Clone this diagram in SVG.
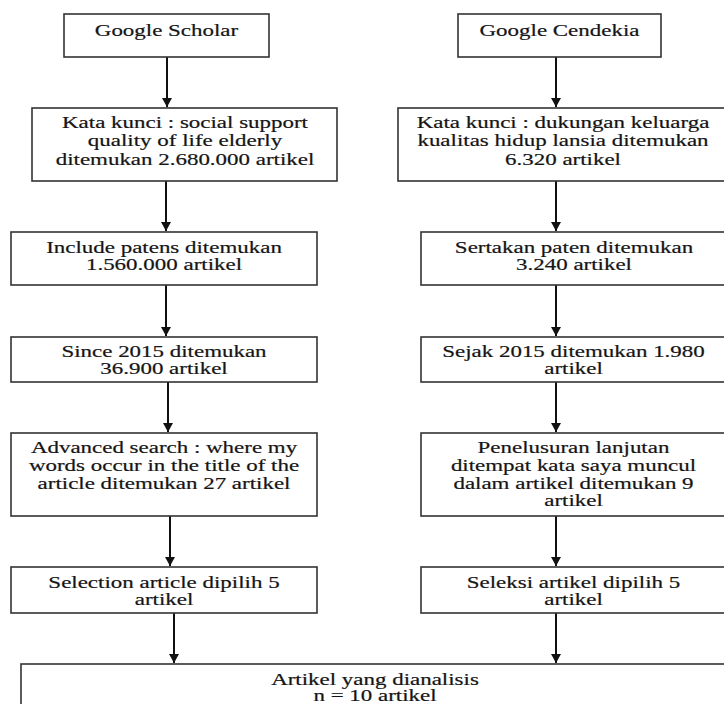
<svg xmlns="http://www.w3.org/2000/svg" width="724" height="704" viewBox="0 0 724 704">
<defs>
<style>
.box{fill:#fff;stroke:#333;stroke-width:1.6}
.con{stroke:#111;stroke-width:2;fill:none;marker-end:url(#ah)}
.t{font-family:"Liberation Serif","Times New Roman",serif;font-size:17px;fill:#151515;stroke:#151515;stroke-width:0.2;text-anchor:middle}
</style>
<marker id="ah" markerUnits="userSpaceOnUse" markerWidth="10" markerHeight="10" refX="9" refY="5" orient="auto">
<path d="M0,0 L9,5 L0,10 z" fill="#111"/>
</marker>
</defs>
<rect width="724" height="704" fill="#fff"/>
<g id="connectors">
<line class="con" x1="167" y1="57" x2="167" y2="107"/>
<line class="con" x1="166" y1="181" x2="166" y2="231"/>
<line class="con" x1="166" y1="285" x2="166" y2="336"/>
<line class="con" x1="168" y1="382" x2="168" y2="432"/>
<line class="con" x1="170" y1="516" x2="170" y2="566"/>
<line class="con" x1="174" y1="613" x2="174" y2="663"/>
<line class="con" x1="556" y1="57" x2="556" y2="107"/>
<line class="con" x1="556" y1="181" x2="556" y2="231"/>
<line class="con" x1="556" y1="285" x2="556" y2="336"/>
<line class="con" x1="556" y1="382" x2="556" y2="432"/>
<line class="con" x1="556" y1="516" x2="556" y2="566"/>
<line class="con" x1="556" y1="613" x2="556" y2="663"/>
</g>
<g id="google-scholar">
<rect class="box" x="64" y="14" width="205" height="43"/>
<text class="t" transform="translate(166.5,36) scale(1.35,1)">Google Scholar</text>
</g>
<g id="kata-kunci-en">
<rect class="box" x="32" y="108" width="305" height="73"/>
<text class="t" transform="translate(185,128) scale(1.35,1)"><tspan x="0" y="0">Kata kunci : social support</tspan><tspan x="0" y="18.5">quality of life elderly</tspan><tspan x="0" y="37">ditemukan 2.680.000 artikel</tspan></text>
</g>
<g id="include-patens">
<rect class="box" x="11" y="232" width="306" height="53"/>
<text class="t" transform="translate(164,252.5) scale(1.35,1)"><tspan x="0" y="0">Include patens ditemukan</tspan><tspan x="0" y="17.5">1.560.000 artikel</tspan></text>
</g>
<g id="since-2015">
<rect class="box" x="11" y="337" width="306" height="45"/>
<text class="t" transform="translate(164,356.5) scale(1.35,1)"><tspan x="0" y="0">Since 2015 ditemukan</tspan><tspan x="0" y="17.5">36.900 artikel</tspan></text>
</g>
<g id="advanced-search">
<rect class="box" x="11" y="433" width="306" height="83"/>
<text class="t" transform="translate(164,453) scale(1.35,1)"><tspan x="0" y="0">Advanced search : where my</tspan><tspan x="0" y="18">words occur in the title of the</tspan><tspan x="0" y="36">article ditemukan 27 artikel</tspan></text>
</g>
<g id="selection-article">
<rect class="box" x="11" y="567" width="306" height="46"/>
<text class="t" transform="translate(164,587.5) scale(1.35,1)"><tspan x="0" y="0">Selection article dipilih 5</tspan><tspan x="0" y="18">artikel</tspan></text>
</g>
<g id="google-cendekia">
<rect class="box" x="458" y="14" width="203" height="43"/>
<text class="t" transform="translate(559.5,36) scale(1.35,1)">Google Cendekia</text>
</g>
<g id="kata-kunci-id">
<rect class="box" x="398" y="108" width="330" height="73"/>
<text class="t" transform="translate(563,128) scale(1.35,1)"><tspan x="0" y="0">Kata kunci : dukungan keluarga</tspan><tspan x="0" y="18.5">kualitas hidup lansia ditemukan</tspan><tspan x="0" y="37">6.320 artikel</tspan></text>
</g>
<g id="sertakan-paten">
<rect class="box" x="421" y="232" width="307" height="53"/>
<text class="t" transform="translate(574,252.5) scale(1.35,1)"><tspan x="0" y="0">Sertakan paten ditemukan</tspan><tspan x="0" y="17.5">3.240 artikel</tspan></text>
</g>
<g id="sejak-2015">
<rect class="box" x="421" y="337" width="307" height="45"/>
<text class="t" transform="translate(573.5,356.5) scale(1.35,1)"><tspan x="0" y="0">Sejak 2015 ditemukan 1.980</tspan><tspan x="0" y="17.5">artikel</tspan></text>
</g>
<g id="penelusuran-lanjutan">
<rect class="box" x="421" y="433" width="307" height="83"/>
<text class="t" transform="translate(573.5,453) scale(1.35,1)"><tspan x="0" y="0">Penelusuran lanjutan</tspan><tspan x="0" y="18">ditempat kata saya muncul</tspan><tspan x="0" y="36">dalam artikel ditemukan 9</tspan><tspan x="0" y="53.5">artikel</tspan></text>
</g>
<g id="seleksi-artikel">
<rect class="box" x="421" y="567" width="307" height="46"/>
<text class="t" transform="translate(573.5,587.5) scale(1.35,1)"><tspan x="0" y="0">Seleksi artikel dipilih 5</tspan><tspan x="0" y="18">artikel</tspan></text>
</g>
<g id="artikel-dianalisis">
<rect class="box" x="21" y="664" width="708" height="60"/>
<text class="t" transform="translate(375,684.5) scale(1.35,1)"><tspan x="0" y="0">Artikel yang dianalisis</tspan><tspan x="0" y="17">n = 10 artikel</tspan></text>
</g>
</svg>
